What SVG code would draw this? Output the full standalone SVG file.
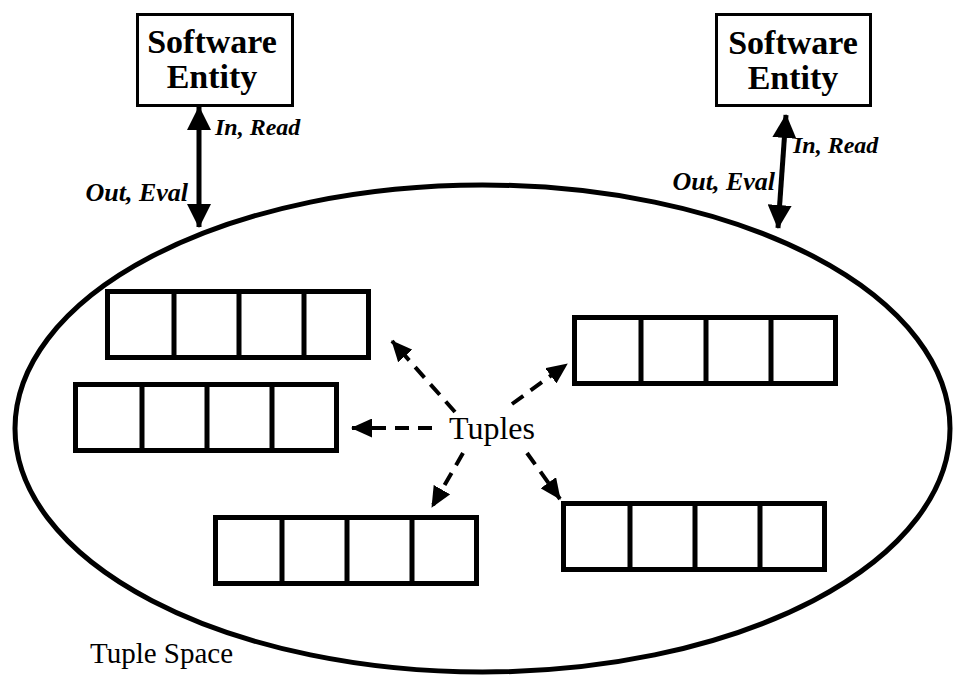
<svg xmlns="http://www.w3.org/2000/svg" xmlns:xlink="http://www.w3.org/1999/xlink" width="954" height="676" viewBox="0 0 954 676">
<style>
.box{fill:#fff;stroke:#000;stroke-width:3}
.cell{fill:none;stroke:#000;stroke-width:5}
.ent{font-family:"Liberation Serif","Times New Roman",serif;font-weight:bold;font-size:34px;text-anchor:middle;fill:#000}
.lbl{font-family:"Liberation Serif","Times New Roman",serif;font-weight:bold;font-style:italic;font-size:24px;fill:#000}
.lbl2{font-family:"Liberation Serif","Times New Roman",serif;font-weight:bold;font-style:italic;font-size:26px;text-anchor:end;fill:#000}
.txt{font-family:"Liberation Serif","Times New Roman",serif;fill:#000}
.solid{stroke:#000;stroke-width:5;fill:none}
.dash{stroke:#000;stroke-width:4;fill:none;stroke-dasharray:14 9}
</style>
<defs>
<marker id="big" viewBox="0 0 24 24" refX="23" refY="12" markerWidth="24" markerHeight="24" markerUnits="userSpaceOnUse" orient="auto-start-reverse">
<path d="M0,0 L24,12 L0,24 Z" fill="#000"/>
</marker>
<marker id="small" viewBox="0 0 21 19" refX="20" refY="9.5" markerWidth="21" markerHeight="19" markerUnits="userSpaceOnUse" orient="auto">
<path d="M0,0 L21,9.5 L0,19 Z" fill="#000"/>
</marker>
<g id="tuple">
<rect class="cell" x="2.5" y="2.5" width="261" height="66"/>
<path class="cell" d="M69,2.5 V68.5 M134,2.5 V68.5 M199,2.5 V68.5"/>
</g>
</defs>
<rect width="954" height="676" fill="#fff"/>
<g id="tuple-space">
<ellipse cx="482.5" cy="428.5" rx="467.5" ry="243.5" fill="none" stroke="#000" stroke-width="5"/>
<text class="txt" x="90" y="663" font-size="29">Tuple Space</text>
</g>
<g id="entity-left">
<rect class="box" x="137.5" y="14.5" width="155" height="91"/>
<text class="ent" x="212" y="53">Software</text>
<text class="ent" x="212" y="88">Entity</text>
</g>
<g id="entity-right">
<rect class="box" x="716.5" y="14.5" width="154" height="91"/>
<text class="ent" x="793" y="54">Software</text>
<text class="ent" x="793" y="89">Entity</text>
</g>
<g id="tuple1" transform="translate(105,289)"><use xlink:href="#tuple"/></g>
<g id="tuple2" transform="translate(73,382)"><use xlink:href="#tuple"/></g>
<g id="tuple3" transform="translate(572,315)"><use xlink:href="#tuple"/></g>
<g id="tuple4" transform="translate(213,515)"><use xlink:href="#tuple"/></g>
<g id="tuple5" transform="translate(561,501)"><use xlink:href="#tuple"/></g>
<g id="tuples-label">
<text class="txt" x="449" y="439" font-size="32">Tuples</text>
</g>
<g id="connectors">
<path class="solid" d="M199,107 V227" marker-start="url(#big)" marker-end="url(#big)"/>
<path class="solid" d="M786,115 L778,228" marker-start="url(#big)" marker-end="url(#big)"/>
<path class="dash" d="M455,412 L392,341" marker-end="url(#small)"/>
<path class="dash" d="M432,428 L352,428" marker-end="url(#small)"/>
<path class="dash" d="M512,404 L567,364" marker-end="url(#small)"/>
<path class="dash" d="M463,453 L432,507" marker-end="url(#small)"/>
<path class="dash" d="M527,453 L560,499" marker-end="url(#small)"/>
<text class="lbl" x="215" y="135">In, Read</text>
<text class="lbl2" x="188" y="201">Out, Eval</text>
<text class="lbl" x="793" y="153">In, Read</text>
<text class="lbl2" x="775" y="190">Out, Eval</text>
</g>
</svg>
